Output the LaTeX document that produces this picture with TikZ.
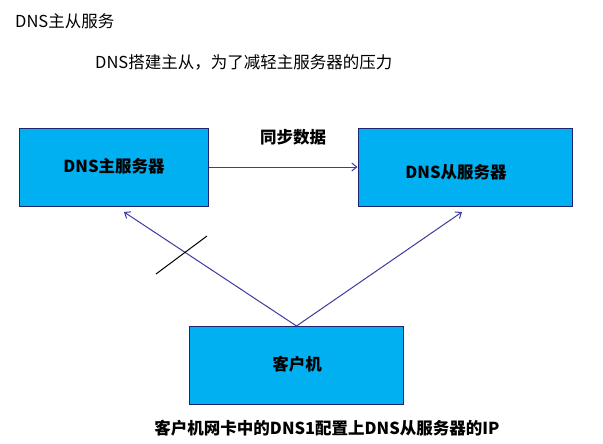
\documentclass[tikz,border=0pt]{standalone}
\usepackage{fontspec}
\setmainfont{Noto Sans CJK SC}
\usetikzlibrary{arrows.meta}
\definecolor{boxfill}{HTML}{00B0F0}
\definecolor{boxline}{HTML}{1F2470}
\definecolor{arrowc}{HTML}{3C3CA0}
\begin{document}
\begin{tikzpicture}[x=1pt,y=-1pt,
  server/.style={draw=boxline,line width=1pt,fill=boxfill,inner sep=0pt},
  lbl/.style={font=\fontsize{16.5}{18}\selectfont\bfseries,inner sep=0pt},
  plain/.style={font=\fontsize{16.5}{18}\selectfont,inner sep=0pt,anchor=west},
  conn/.style={draw=arrowc,line width=1pt,-{Straight Barb[length=5pt,width=8pt]}}]
\useasboundingbox (0,0) rectangle (603,444);
\fill[white] (0,0) rectangle (603,444);
% boxes
\node[server,minimum width=189pt,minimum height=78pt] (master) at (113.5,167) {};
\node[server,minimum width=214pt,minimum height=78pt] (slave) at (465,167) {};
\node[server,minimum width=214pt,minimum height=78pt] (client) at (296,365) {};
% box labels
\node[lbl] (tm) at (114,166) {DNS主服务器};
\node[lbl] (ts) at (456,172) {DNS从服务器};
\node[lbl] (tc) at (297,364) {客户机};
% texts
\node[plain] (title) at (15,21) {DNS主从服务};
\node[plain] (sub) at (95,62) {DNS搭建主从，为了减轻主服务器的压力};
\node[lbl] (sync) at (293,137) {同步数据};
\node[lbl] (note) at (327,428) {客户机网卡中的DNS1配置上DNS从服务器的IP};
% connectors
\coordinate (ctop) at (296.5,326);
\coordinate (mtip) at (124,212);
\coordinate (stip) at (462,212);
\draw[conn] (master.east |- 0,167) -- (slave.west |- 0,167);
\draw[conn] (ctop) -- (mtip);
\draw[conn] (ctop) -- (stip);
% cross mark
\coordinate (x1) at (156,274);
\coordinate (x2) at (207,236);
\draw[black,line width=1pt] (x1) -- (x2);
\end{tikzpicture}
\end{document}
